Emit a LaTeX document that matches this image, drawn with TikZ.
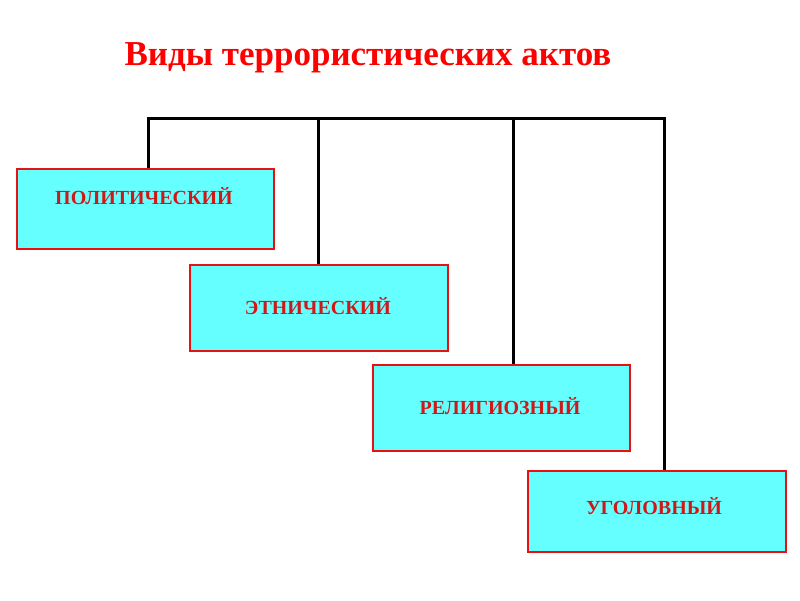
\documentclass[tikz,border=0pt]{standalone}
\usepackage{fontspec}
\setmainfont{Liberation Serif}
\definecolor{boxred}{HTML}{E81010}
\definecolor{boxcyan}{HTML}{66FFFF}
\definecolor{txtred}{HTML}{D01818}
\definecolor{titlered}{HTML}{FF0000}
\begin{document}
\begin{tikzpicture}[x=1pt,y=-1pt,
  box/.style={draw=boxred, line width=2pt, fill=boxcyan, anchor=north west, inner sep=0pt},
  lbl/.style={text=txtred, anchor=base, inner sep=0pt, font=\bfseries\fontsize{20}{24}\selectfont},
  link/.style={draw=black, line width=3pt}]
\useasboundingbox[fill=white] (0,0) rectangle (800,600);
\node[anchor=base, inner sep=0pt, text=titlered, font=\bfseries\fontsize{35}{40}\selectfont] (title) at (368,65) {Виды террористических актов};
\node[box, minimum width=257pt, minimum height=80pt] (b1) at (16,168) {};
\node[box, minimum width=258pt, minimum height=86pt] (b2) at (189,264) {};
\node[box, minimum width=257pt, minimum height=86pt] (b3) at (372,364) {};
\node[box, minimum width=258pt, minimum height=81pt] (b4) at (527,470) {};
\node[lbl] (t1) at (144,204) {ПОЛИТИЧЕСКИЙ};
\node[lbl] (t2) at (318,314) {ЭТНИЧЕСКИЙ};
\node[lbl] (t3) at (500,414) {РЕЛИГИОЗНЫЙ};
\node[lbl] (t4) at (654,514) {УГОЛОВНЫЙ};
\coordinate (h1) at (148,118);
\coordinate (h2) at (318,118);
\coordinate (h3) at (513,118);
\coordinate (h4) at (664,118);
\draw[link, line cap=rect] (h1) -- (h4);
\draw[link] (h1) -- (h1 |- b1.north);
\draw[link] (h2) -- (h2 |- b2.north);
\draw[link] (h3) -- (h3 |- b3.north);
\draw[link] (h4) -- (h4 |- b4.north);
\end{tikzpicture}
\end{document}
